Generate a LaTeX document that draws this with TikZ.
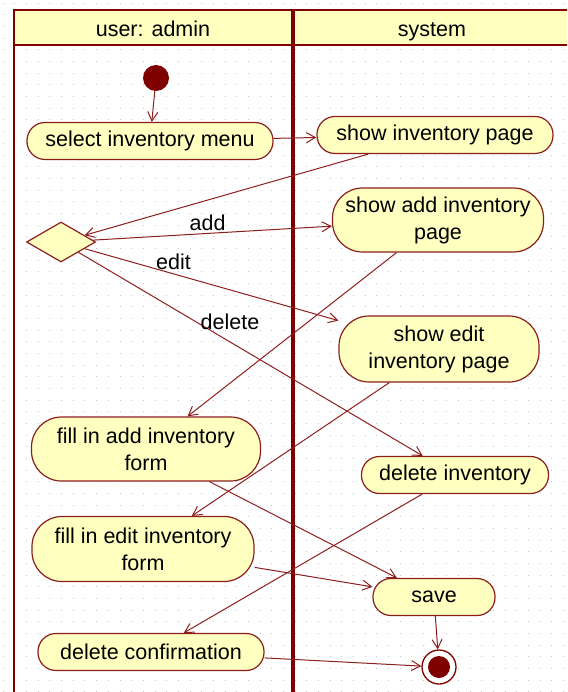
\documentclass[tikz,border=0pt]{standalone}
\usepackage{fontspec}
\setmainfont{Liberation Sans}
\usetikzlibrary{%
    shapes.geometric,%
    arrows.meta
}
\definecolor{umlred}{RGB}{128,0,0}
\definecolor{umlline}{RGB}{140,30,30}
\definecolor{umlfill}{RGB}{255,255,192}

\begin{document}
\begin{tikzpicture}[x=1pt,y=-1pt,
    labeltext/.style={font={\fontsize{21.5}{27}\selectfont}},
    activity/.style={labeltext,draw=umlline,fill=umlfill,line width=1.2pt,
        rectangle,rounded corners=18pt,minimum height=37pt,inner sep=2pt,
        align=center},
    tallact/.style={activity,rounded corners=30pt},
    decision/.style={draw=umlline,fill=umlfill,line width=1.2pt,diamond,
        minimum width=69pt,minimum height=40pt,inner sep=0pt},
    startdot/.style={circle,fill=umlred,minimum size=26pt,inner sep=0pt},
    enddot/.style={circle,draw=umlred,line width=1.3pt,fill=white,
        minimum size=34pt,inner sep=0pt,
        path picture={\fill[umlred] (path picture bounding box.center)
            circle (11pt);}},
    flow/.style={->,>={Straight Barb[length=9pt,width=10pt]},
        draw=umlline,line width=1pt},
    griddot/.style={gray!45,line width=1pt,dash pattern=on 1pt off 10.67pt},
    lane/.style={draw=umlred}]
\useasboundingbox (0,0) rectangle (567,692);
\clip (0,0) rectangle (567,692);

% dotted background
\foreach \row in {0,...,59}
    \draw[griddot] (2.8,{3.3+11.67*\row}) -- (567,{3.3+11.67*\row});

% swimlanes
\fill[umlfill] (14,10) rectangle (580,45);
\draw[lane,line width=2.5pt] (580,10) -- (14,10) -- (14,700);
\draw[lane,line width=2.5pt] (14,45) -- (580,45);
\draw[lane,line width=4pt] (293,10) -- (293,700);
\node[labeltext,anchor=base] (adminlane) at (153,37) {user: admin};
\node[labeltext,anchor=base] (systemlane) at (432,37) {system};

% actions
\node[startdot] (start) at (156,78) {};
\node[activity,minimum width=246pt] (selmenu) at (150,141) {select inventory menu};
\node[activity,minimum width=236pt] (showpage) at (435,135) {show inventory page};
\node[decision] (choice) at (61,242) {};
\node[tallact,minimum width=211pt,minimum height=64pt] (showadd) at (438,220)
    {show add inventory\\page};
\node[tallact,minimum width=200pt,minimum height=66pt] (showedit) at (439,349)
    {show edit\\inventory page};
\node[tallact,minimum width=229pt,minimum height=64pt] (filladd) at (146,449)
    {fill in add inventory\\form};
\node[tallact,minimum width=222pt,minimum height=65pt] (filledit) at (143,549)
    {fill in edit inventory\\form};
\node[activity,minimum width=226pt] (delconf) at (151,652) {delete confirmation};
\node[activity,minimum width=187pt] (delinv) at (455,475) {delete inventory};
\node[activity,minimum width=122pt] (save) at (434,597) {save};
\node[enddot] (finish) at (439,667) {};

% transitions
\draw[flow] (start) -- (selmenu);
\draw[flow] (selmenu) -- (showpage);
\draw[flow] (showpage) -- (choice);
\draw[flow] (choice) -- node[labeltext,pos=.48,above=-1pt] {add} (showadd);
\draw[flow] (choice) -- node[labeltext,pos=.35,above] {edit} (showedit);
\draw[flow] (choice) -- node[labeltext,pos=.44,above=8pt] {delete} (delinv);
\draw[flow] (showadd) -- (filladd);
\draw[flow] (showedit) -- (filledit);
\draw[flow] (delinv) -- (delconf);
\draw[flow] (filladd) -- (save);
\draw[flow] (filledit) -- (save);
\draw[flow] (delconf) -- (finish);
\draw[flow] (save) -- (finish);
\end{tikzpicture}
\end{document}
